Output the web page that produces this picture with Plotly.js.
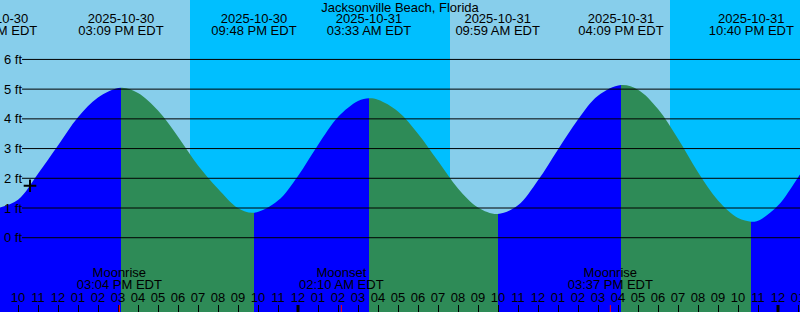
<!DOCTYPE html>
<html>
<head>
<meta charset="utf-8">
<script src="https://cdn.plot.ly/plotly-3.0.1.min.js"></script>
<style>html,body{margin:0;padding:0;background:#87CEEB;}#chart{width:800px;height:312px;}</style>
</head>
<body>
<div id="chart"></div>
<script>
// ---------------- data ----------------
const stationName = 'Jacksonville Beach, Florida';

// tide curve: hourly readings plus the extremes (ft)
const tideTimes = [
  '2025-10-30 08:51','2025-10-30 10:00','2025-10-30 11:00','2025-10-30 12:00','2025-10-30 13:00','2025-10-30 14:00',
  '2025-10-30 15:09','2025-10-30 16:00','2025-10-30 17:00','2025-10-30 18:00','2025-10-30 19:00','2025-10-30 20:00',
  '2025-10-30 21:00','2025-10-30 21:48','2025-10-30 23:00','2025-10-31 00:00','2025-10-31 01:00','2025-10-31 02:00',
  '2025-10-31 03:00','2025-10-31 03:33','2025-10-31 04:00','2025-10-31 05:00','2025-10-31 06:00','2025-10-31 07:00',
  '2025-10-31 08:00','2025-10-31 09:00','2025-10-31 09:59','2025-10-31 11:00','2025-10-31 12:00','2025-10-31 13:00',
  '2025-10-31 14:00','2025-10-31 15:00','2025-10-31 16:09','2025-10-31 17:00','2025-10-31 18:00','2025-10-31 19:00',
  '2025-10-31 20:00','2025-10-31 21:00','2025-10-31 22:00','2025-10-31 22:40','2025-10-31 23:00','2025-11-01 00:00',
  '2025-11-01 01:00','2025-11-01 02:00'
];
const tideLevels = [
  0.97, 1.28, 2.15, 3.10, 4.05, 4.72,
  5.05, 4.87, 4.28, 3.40, 2.43, 1.65,
  1.00, 0.84, 1.25, 2.08, 3.12, 4.06,
  4.60, 4.69, 4.64, 4.25, 3.50, 2.58,
  1.66, 1.02, 0.80, 1.09, 1.93, 2.97,
  3.98, 4.78, 5.14, 4.98, 4.33, 3.33,
  2.20, 1.25, 0.66, 0.54, 0.57, 1.08,
  2.03, 3.02
];

// tide extremes (labels at top)
const extremeTimes = ['2025-10-30 08:51','2025-10-30 15:09','2025-10-30 21:48','2025-10-31 03:33',
                      '2025-10-31 09:59','2025-10-31 16:09','2025-10-31 22:40'];
const extremeKinds = ['low','high','low','high','low','high','low'];

// moon events (labels at bottom)
const moonTimes = ['2025-10-30 15:04','2025-10-31 02:10','2025-10-31 15:37'];
const moonEvents = ['Moonrise','Moonset','Moonrise'];

// sun events (day / night background)
const sunTimes = ['2025-10-30 18:36','2025-10-31 07:36','2025-10-31 18:36'];
const sunEvents = ['sunset','sunrise','sunset'];

// midnights (heavy ticks)
const midnightTimes = ['2025-10-31 00:00','2025-11-01 00:00'];

// current-time mark
const markTimes = ['2025-10-30 10:36'];
const markLevels = [1.75];

// y labels
const levelTicks = [0, 1, 2, 3, 4, 5, 6];
const levelTickText = levelTicks.map(v => v + ' ft');

// ---------------- layout constants ----------------
const W = 800, H = 312;
const xRange = ['2025-10-30 09:06', '2025-11-01 01:06'];
const yRange = [-2.5, 8.0];
const FONT = 'Liberation Sans, Arial, Helvetica, sans-serif';
const DAY = '#87CEEB', NIGHT = '#00BFFF', FLOOD = '#0000FF', EBB = '#2E8B57';

const yAtPx = p => yRange[1] - p * (yRange[1] - yRange[0]) / H;
const toMs = s => Date.parse(s.replace(' ', 'T') + ':00Z');
const fmtTime = s => {
  let h = +s.slice(11, 13), m = s.slice(14, 16);
  const ap = h >= 12 ? 'PM' : 'AM';
  h = h % 12; if (h === 0) h = 12;
  return String(h).padStart(2, '0') + ':' + m + ' ' + ap + ' EDT';
};

// gradient for rising / falling water
const t0 = toMs(tideTimes[0]), tN = toMs(tideTimes[tideTimes.length - 1]);
const scale = [];
let cur = extremeKinds[0] === 'low' ? FLOOD : EBB;
scale.push([0, cur]);
extremeTimes.forEach((t, i) => {
  const f = (toMs(t) - t0) / (tN - t0);
  if (f <= 0 || f >= 1) return;
  const next = extremeKinds[i] === 'low' ? FLOOD : EBB;
  scale.push([f, cur]); scale.push([f, next]); cur = next;
});
scale.push([1, cur]);

const traces = [];
// baseline for fill
traces.push({
  x: [tideTimes[0], tideTimes[tideTimes.length - 1]], y: [yRange[0], yRange[0]],
  mode: 'lines', line: {width: 0, color: 'rgba(0,0,0,0)'}, hoverinfo: 'skip', showlegend: false
});
traces.push({
  x: tideTimes, y: tideLevels, mode: 'lines', line: {width: 0, shape: 'spline', color: 'rgba(0,0,0,0)'},
  fill: 'tonexty', fillgradient: {type: 'horizontal', colorscale: scale},
  hoverinfo: 'skip', showlegend: false
});
// mark
traces.push({
  x: markTimes, y: markLevels, mode: 'markers',
  marker: {symbol: 'cross-thin', size: 9, line: {width: 2, color: '#000'}},
  hoverinfo: 'skip', showlegend: false
});
// top / bottom labels
const textTrace = (xs, py, txt) => ({
  x: xs, y: xs.map(() => yAtPx(py)), text: txt, mode: 'text', textposition: 'middle center',
  textfont: {family: FONT, size: 13, color: '#000'}, hoverinfo: 'skip', showlegend: false, cliponaxis: true
});
traces.push(textTrace(extremeTimes, 19.5, extremeTimes.map(t => t.slice(0, 10))));
traces.push(textTrace(extremeTimes, 31.5, extremeTimes.map(fmtTime)));
traces.push(textTrace(moonTimes, 273.5, moonEvents));
traces.push(textTrace(moonTimes, 285.5, moonTimes.map(fmtTime)));

// shapes
const shapes = [];
sunTimes.forEach((t, i) => {
  if (sunEvents[i] !== 'sunset') return;
  const end = sunTimes[i + 1] || xRange[1];
  shapes.push({type: 'rect', xref: 'x', yref: 'paper', x0: t, x1: end, y0: 0, y1: 1,
               fillcolor: NIGHT, line: {width: 0}, layer: 'below'});
});
levelTicks.forEach(v => {
  shapes.push({type: 'line', xref: 'paper', yref: 'y', x0: 22 / W, x1: 1, y0: v, y1: v,
               line: {color: '#000', width: 1}, layer: 'above'});
});
midnightTimes.forEach(t => {
  shapes.push({type: 'line', xref: 'x', yref: 'paper', x0: t, x1: t, y0: 0, y1: 7 / H,
               line: {color: '#000', width: 3}, layer: 'above'});
});
moonTimes.forEach(t => {
  shapes.push({type: 'line', xref: 'x', yref: 'paper', x0: t, x1: t, y0: 0, y1: 7 / H,
               line: {color: '#FF0000', width: 1}, layer: 'above'});
});

// y labels as annotations (inside the plot, left edge)
const annotations = levelTicks.map((v, i) => ({
  xref: 'paper', yref: 'y', x: 0, y: v, xanchor: 'left', yanchor: 'middle', xshift: 2,
  text: levelTickText[i], showarrow: false, font: {family: FONT, size: 13, color: '#000'}
}));

const layout = {
  width: W, height: H,
  margin: {l: 0, r: 0, t: 0, b: 0, pad: 0},
  paper_bgcolor: DAY, plot_bgcolor: DAY,
  font: {family: FONT, size: 13, color: '#000'},
  title: {text: stationName, font: {family: FONT, size: 13, color: '#000'},
          x: 0.5, xanchor: 'center', y: 1 - 7.5 / H, yanchor: 'middle', yref: 'container', pad: {t: 0, b: 0}},
  showlegend: false,
  xaxis: {
    type: 'date', range: xRange, showgrid: false, zeroline: false, showline: false,
    tick0: '2025-10-30 00:00', dtick: 3600000, tickformat: '%I',
    ticks: 'inside', ticklen: 7, tickwidth: 1, tickcolor: '#000',
    ticklabelposition: 'inside', ticklabeloverflow: 'allow',
    tickfont: {family: FONT, size: 13, color: '#000'}, fixedrange: true
  },
  yaxis: {
    range: yRange, showgrid: false, zeroline: false, showline: false,
    showticklabels: false, ticks: '', fixedrange: true
  },
  shapes: shapes,
  annotations: annotations
};

Plotly.newPlot('chart', traces, layout, {displayModeBar: false, staticPlot: true});
</script>
</body>
</html>
